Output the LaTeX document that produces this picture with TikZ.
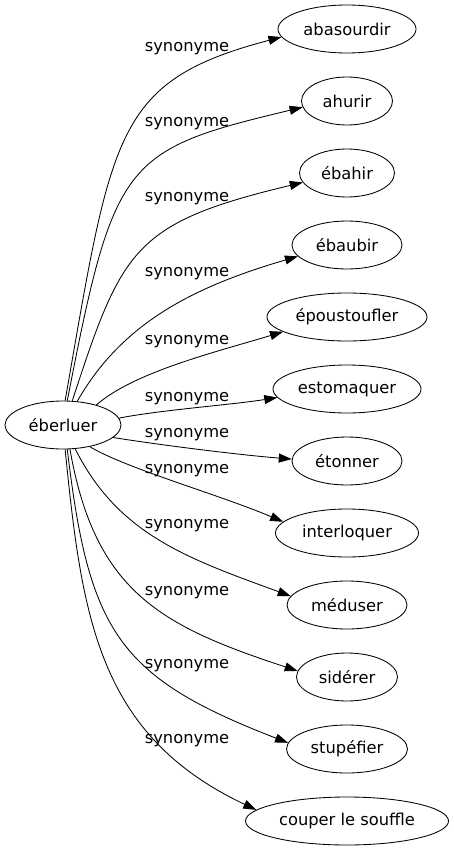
\documentclass[tikz,border=0pt]{standalone}
\usepackage{fontspec}
\setmainfont{DejaVu Sans}
\usepackage{tikz}
\usetikzlibrary{arrows.meta,shapes.geometric}

\begin{document}
\begin{tikzpicture}[x=1pt, y=-1pt,
    font=\fontsize{16.3}{19}\selectfont,
    word/.style={ellipse, draw, line width=0.85pt, inner sep=0pt, minimum height=48pt},
    syn/.style={line width=0.85pt, -{Triangle[length=13pt, width=9pt]}},
    lbl/.style={inner sep=0pt}]
    \useasboundingbox (0,0) rectangle (453,851);

    \node[word, minimum width=116pt] (eber) at (63,425) {éberluer};
    \node[word, minimum width=138pt] (abas) at (347,29) {abasourdir};
    \node[word, minimum width=91pt] (ahur) at (347,101) {ahurir};
    \node[word, minimum width=95pt] (ebah) at (347,173) {ébahir};
    \node[word, minimum width=110pt] (ebau) at (347,245) {ébaubir};
    \node[word, minimum width=160pt] (epou) at (347,317) {époustoufler};
    \node[word, minimum width=148pt] (esto) at (347,389) {estomaquer};
    \node[word, minimum width=110pt] (eton) at (347,461) {étonner};
    \node[word, minimum width=143pt] (inter) at (347,533) {interloquer};
    \node[word, minimum width=120pt] (medu) at (347,605) {méduser};
    \node[word, minimum width=101pt] (side) at (347,677) {sidérer};
    \node[word, minimum width=121pt] (stup) at (347,749) {stupéfier};
    \node[word, minimum width=203pt] (coup) at (347,821) {couper le souffle};

    \node[lbl] (l-abas) at (187,49) {synonyme};
    \node[lbl] (l-ahur) at (187,124) {synonyme};
    \node[lbl] (l-ebah) at (187,199) {synonyme};
    \node[lbl] (l-ebau) at (187,274) {synonyme};
    \node[lbl] (l-epou) at (187,342) {synonyme};
    \node[lbl] (l-esto) at (187,399) {synonyme};
    \node[lbl] (l-eton) at (187,435) {synonyme};
    \node[lbl] (l-inter) at (187,471) {synonyme};
    \node[lbl] (l-medu) at (187,526) {synonyme};
    \node[lbl] (l-side) at (187,593) {synonyme};
    \node[lbl] (l-stup) at (187,666) {synonyme};
    \node[lbl] (l-coup) at (187,741) {synonyme};

    \draw[syn] (eber.85) .. controls (112,133) and (114,81) .. (abas.187);
    \draw[syn] (eber.80) .. controls (114,160) and (123,150) .. (ahur.188);
    \draw[syn] (eber.69) .. controls (122,249) and (133,223) .. (ebah.192);
    \draw[syn] (eber.59) .. controls (122,323) and (193,287) .. (ebau.193);
    \draw[syn] (eber.31) .. controls (134,372) and (216,352) .. (epou.193);
    \draw[syn] (eber.7) .. controls (160,410) and (230,405) .. (esto.187);
    \draw[syn] (eber.346) .. controls (160,445) and (240,455) .. (eton.178);
    \draw[syn] (eber.321) .. controls (125,468) and (220,495) .. (inter.170);
    \draw[syn] (eber.297) .. controls (118,534) and (186,558) .. (medu.171);
    \draw[syn] (eber.286) .. controls (95,592) and (161,626) .. (side.173);
    \draw[syn] (eber.280) .. controls (89,632) and (118,677) .. (stup.174);
    \draw[syn] (eber.275) .. controls (82,618) and (98,735) .. (coup.173);
\end{tikzpicture}
\end{document}
